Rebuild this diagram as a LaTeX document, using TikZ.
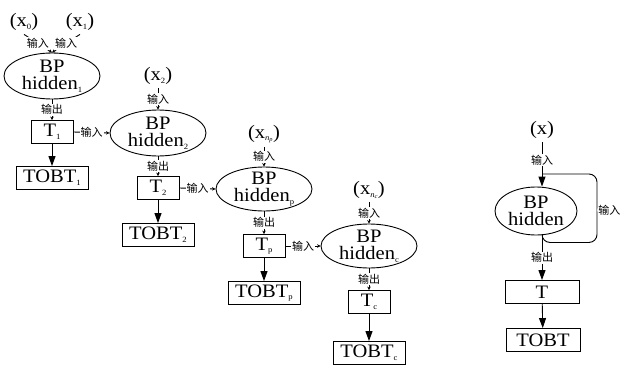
\documentclass[tikz,border=0pt]{standalone}
\usepackage{fontspec}
\setmainfont{Liberation Serif}[FakeStretch=1.08]
\newfontfamily\cjk{Noto Sans CJK SC}
\usetikzlibrary{arrows.meta,shapes.geometric}
\newcommand\lowidx[1]{\raisebox{-0.3ex}{\fontsize{8}{8}\selectfont #1}}
\tikzset{
  hid/.style={draw,ellipse,inner xsep=0pt,inner ysep=-2pt,minimum width=96pt,minimum height=46pt,align=center},
  tbox/.style={draw,rectangle,minimum width=42pt,minimum height=23pt,inner sep=1pt},
  obox/.style={draw,rectangle,minimum width=72pt,minimum height=23pt,inner sep=1pt},
  lbl/.style={fill=white,inner sep=1pt,font=\cjk\fontsize{11}{11}\selectfont},
  smalltip/.style={-{Stealth[length=3.5pt,width=3.5pt]}},
  bigtip/.style={-{Triangle[length=10pt,width=7pt]}}
}
\begin{document}
\begin{tikzpicture}[x=1pt,y=-1pt,line width=0.9pt,font=\fontsize{19}{17.5}\selectfont]
\useasboundingbox (0,0) rectangle (635,367);
% net 1, two inputs
\begin{scope}[shift={(52,76)}]
  \node (x0) at (-28,-54) {(x\lowidx{0})};
  \node (x1) at (28,-54) {(x\lowidx{1})};
  \node[hid] (h1) at (0,0) {BP\\hidden\lowidx{1}};
  \node[tbox] (t1) at (0,56) {T\lowidx{1}};
  \node[obox] (o1) at (0,102) {TOBT\lowidx{1}};
\end{scope}
% net 2
\begin{scope}[shift={(158,133)}]
  \node (x2) at (0,-57) {(x\lowidx{2})};
  \node[hid] (h2) at (0,0) {BP\\hidden\lowidx{2}};
  \node[tbox] (t2) at (0,55) {T\lowidx{2}};
  \node[obox] (o2) at (0,102) {TOBT\lowidx{2}};
\end{scope}
% net p
\begin{scope}[shift={(264,189)}]
  \node (xp) at (0,-55) {(x\lowidx{\itshape n\textsubscript{p}})};
  \node[hid,minimum height=44pt] (hp) at (0,0) {BP\\hidden\lowidx{p}};
  \node[tbox] (tp) at (0,57) {T\lowidx{p}};
  \node[obox] (op) at (0,104) {TOBT\lowidx{p}};
\end{scope}
% net c
\begin{scope}[shift={(369,246)}]
  \node (xc) at (0,-56) {(x\lowidx{\itshape n\textsubscript{c}})};
  \node[hid,minimum height=44pt] (hc) at (0,0) {BP\\hidden\lowidx{c}};
  \node[tbox] (tc) at (0,56) {T\lowidx{c}};
  \node[obox] (oc) at (0,107) {TOBT\lowidx{c}};
\end{scope}
\draw[smalltip] (x0.south) -- node[lbl]{输入} (h1.north);
\draw[smalltip] (x1.south) -- node[lbl]{输入} (h1.north);
\draw[smalltip] (x2) -- node[lbl]{输入} (h2.north);
\draw[smalltip] (xp) -- node[lbl]{输入} (hp.north);
\draw[smalltip] (xc) -- node[lbl]{输入} (hc.north);
\draw[smalltip] (h1) -- node[lbl]{输出} (t1);
\draw[smalltip] (h2) -- node[lbl]{输出} (t2);
\draw[smalltip] (hp) -- node[lbl]{输出} (tp);
\draw[smalltip] (hc) -- node[lbl]{输出} (tc);
\draw[smalltip] (t1.east) -- node[lbl]{输入} (h2.west);
\draw[smalltip] (t2.east) -- node[lbl]{输入} (hp.west);
\draw[smalltip] (tp.east) -- node[lbl]{输入} (hc.west);
\draw[bigtip] (t1) -- (o1);
\draw[bigtip] (t2) -- (o2);
\draw[bigtip] (tp) -- (op);
\draw[bigtip] (tc) -- (oc);
% recurrent net
\node (x) at (542,130) {(x)};
\node[hid,minimum width=82pt,minimum height=48pt] (h) at (536,211) {BP\\hidden};
\node[tbox,minimum width=74pt] (t) at (542,292) {T};
\node[obox,minimum width=74pt] (o) at (543,340) {TOBT};
\coordinate (jn) at (542,174);
\coordinate (loopr) at (597,210);
\draw[bigtip] (x) -- node[lbl,pos=0.4]{输入} (x |- h.north);
\draw[rounded corners=8pt] (x |- h.south) -- ++(0,7) -| (loopr) node[lbl,right]{输入} |- (jn);
\draw[bigtip] (x |- h.south) -- node[lbl]{输出} (t.north);
\draw[bigtip] (t) -- (o);
\end{tikzpicture}
\end{document}
